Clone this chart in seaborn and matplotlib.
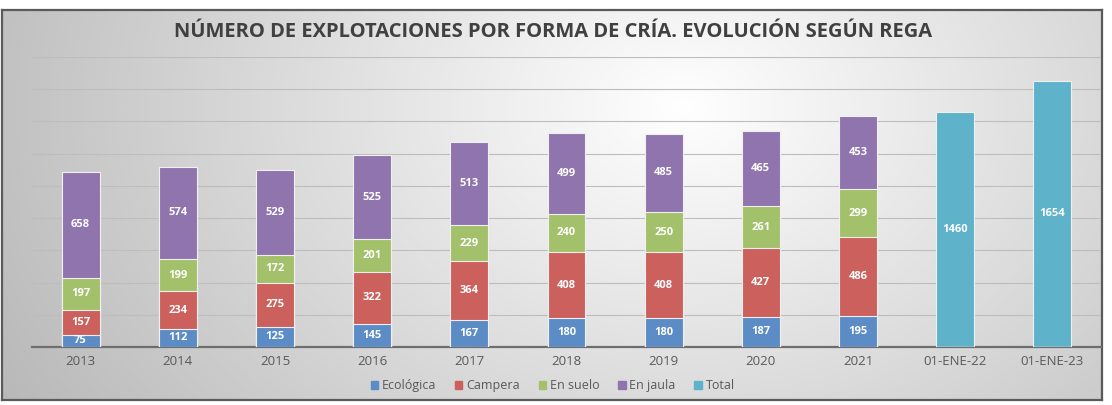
import numpy as np
import pandas as pd
import matplotlib
matplotlib.use("Agg")
import matplotlib.pyplot as plt
import seaborn as sns
from matplotlib.patches import Rectangle

categories = ["2013", "2014", "2015", "2016", "2017", "2018", "2019", "2020", "2021", "01-ENE-22", "01-ENE-23"]
ecologica = [75, 112, 125, 145, 167, 180, 180, 187, 195, 0, 0]
campera = [157, 234, 275, 322, 364, 408, 408, 427, 486, 0, 0]
en_suelo = [197, 199, 172, 201, 229, 240, 250, 261, 299, 0, 0]
en_jaula = [658, 574, 529, 525, 513, 499, 485, 465, 453, 0, 0]
total = [0, 0, 0, 0, 0, 0, 0, 0, 0, 1460, 1654]

series_names = ["Ecológica", "Campera", "En suelo", "En jaula", "Total"]
series_values = [ecologica, campera, en_suelo, en_jaula, total]
colors = ["#5B8CC6", "#CB605C", "#A3C16A", "#8F74AD", "#5EB2C9"]
title = "NÚMERO DE EXPLOTACIONES POR FORMA DE CRÍA. EVOLUCIÓN SEGÚN REGA"

sns.set_theme(style="white")
plt.rcParams["font.family"] = ["Open Sans", "DejaVu Sans"]

fig = plt.figure(figsize=(11.12, 4.05), dpi=100)
fig.patch.set_facecolor("white")

# background gradient panel
bg = fig.add_axes([0.0018, 0.0123, 0.989, 0.963])
bg.set_zorder(-2)
ny, nx = 200, 600
yy, xx = np.mgrid[0:1:ny * 1j, 0:1:nx * 1j]
d = np.sqrt(((xx - 0.62) / 0.62) ** 2 + ((yy - 0.25) / 1.3) ** 2)
v = 1 - 0.24 * np.clip(d, 0, 1.2)
img = np.dstack([v, v, v])
bg.imshow(img, aspect="auto", extent=[0, 1, 0, 1], origin="upper")
bg.set_xlim(0, 1)
bg.set_ylim(0, 1)
bg.set_xticks([])
bg.set_yticks([])
for s in bg.spines.values():
    s.set_color("#5a5a5a")
    s.set_linewidth(1.6)

ax = fig.add_axes([0.0288, 0.1432, 0.9612, 0.7160])
ax.set_facecolor("none")

cum = np.zeros(len(categories))
cums = []
for vals in series_values:
    cum = cum + np.array(vals, dtype=float)
    cums.append(cum.copy())

# draw cumulative bars from top to bottom so each layer shows as a segment
for name, col, c in reversed(list(zip(series_names, colors, cums))):
    sns.barplot(x=categories, y=c, color=col, width=0.39, ax=ax,
                edgecolor="#f0f0f0", linewidth=0.8, saturation=1, zorder=3)

# value labels
for i in range(len(categories)):
    base = 0
    for vals in series_values:
        val = vals[i]
        if val > 0:
            ax.text(i, base + val / 2, f"{val}", ha="center", va="center",
                    color="white", fontsize=8, fontweight="bold", zorder=5)
        base += val

ax.set_ylim(0, 1800)
ax.set_xlim(-0.5, len(categories) - 0.5)
ax.set_yticks(np.arange(0, 1801, 200))
ax.set_yticklabels([])
ax.tick_params(axis="y", length=0)
ax.tick_params(axis="x", length=0, pad=6, labelsize=9.5, labelcolor="#595959")
ax.grid(axis="y", color="#bdbdbd", linewidth=0.8, zorder=0)
ax.set_axisbelow(True)
for s in ["left", "right", "top"]:
    ax.spines[s].set_visible(False)
ax.spines["bottom"].set_color("#6e6e6e")
ax.spines["bottom"].set_linewidth(1.6)
ax.set_xlabel("")
ax.set_ylabel("")

handles = [Rectangle((0, 0), 1, 1, color=c) for c in colors]
fig.legend(handles, series_names, loc="center", bbox_to_anchor=(0.497, 0.047),
           ncol=5, frameon=False, fontsize=9, labelcolor="#595959",
           handlelength=0.6, handleheight=0.6, handletextpad=0.3, columnspacing=1.5)

fig.text(0.497, 0.921, title, ha="center", va="center", fontsize=14.5,
         fontweight="bold", color="#404040")

fig.savefig("out.png", dpi=100)
